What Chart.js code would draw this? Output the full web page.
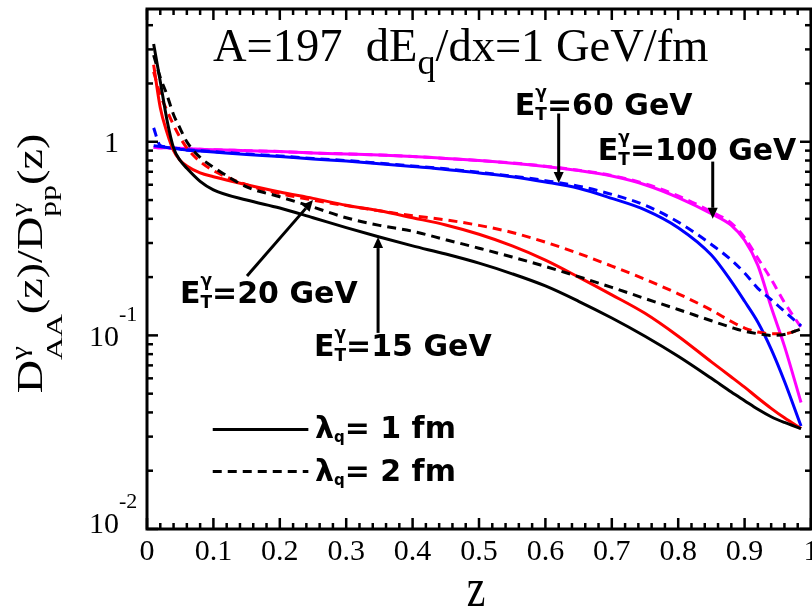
<!DOCTYPE html>
<html>
<head>
<meta charset="utf-8">
<script src="https://cdn.jsdelivr.net/npm/chart.js@4/dist/chart.umd.min.js"></script>
<style>
  html, body { margin: 0; padding: 0; background: #fff; }
  canvas { display: block; }
</style>
</head>
<body>
<canvas id="c" width="812" height="613"></canvas>
<script>
// Photon fragmentation ratio D_AA(z)/D_pp(z), A=197, dE/dx = 1 GeV/fm
const zValues = [0.01, 0.02, 0.03, 0.04, 0.05, 0.06, 0.08, 0.1, 0.15, 0.2, 0.25, 0.3, 0.35, 0.4,
                 0.45, 0.5, 0.55, 0.6, 0.65, 0.7, 0.75, 0.8, 0.85, 0.88, 0.9, 0.92, 0.94, 0.96, 0.985];

// E_T = 15 GeV
const et15Lambda1 = [3.2, 2.05, 1.3, 0.93, 0.8, 0.73, 0.625, 0.565, 0.5, 0.455, 0.405, 0.36, 0.322, 0.29,
                     0.263, 0.236, 0.208, 0.18, 0.15, 0.123, 0.099, 0.078, 0.06, 0.051, 0.046, 0.0415, 0.038, 0.0355, 0.033];
const et15Lambda2 = [2.8, 2.15, 1.75, 1.38, 1.17, 1.0, 0.83, 0.74, 0.585, 0.52, 0.46, 0.405, 0.37, 0.345,
                     0.312, 0.282, 0.254, 0.227, 0.201, 0.177, 0.155, 0.136, 0.119, 0.11, 0.105, 0.102, 0.1, 0.101, 0.108];
// E_T = 20 GeV
const et20Lambda1 = [2.5, 1.5, 1.12, 0.9, 0.8, 0.75, 0.69, 0.66, 0.6, 0.55, 0.51, 0.47, 0.44, 0.405,
                     0.372, 0.333, 0.29, 0.245, 0.2, 0.162, 0.13, 0.099, 0.073, 0.061, 0.054, 0.0475, 0.042, 0.0375, 0.033];
const et20Lambda2 = [2.3, 1.75, 1.45, 1.22, 1.05, 0.93, 0.79, 0.71, 0.6, 0.54, 0.5, 0.468, 0.44, 0.415,
                     0.395, 0.37, 0.34, 0.303, 0.265, 0.228, 0.195, 0.164, 0.135, 0.118, 0.109, 0.104, 0.102, 0.102, 0.108];
// E_T = 60 GeV
const et60Lambda1 = [0.955, 0.945, 0.935, 0.925, 0.915, 0.905, 0.895, 0.885, 0.86, 0.84, 0.815, 0.795, 0.77, 0.745,
                     0.72, 0.69, 0.66, 0.62, 0.575, 0.51, 0.445, 0.36, 0.26, 0.19, 0.15, 0.117, 0.085, 0.058, 0.034];
const et60Lambda2 = [1.18, 0.955, 0.94, 0.93, 0.92, 0.91, 0.9, 0.89, 0.865, 0.845, 0.82, 0.8, 0.775, 0.75,
                     0.725, 0.695, 0.665, 0.63, 0.59, 0.535, 0.47, 0.385, 0.295, 0.245, 0.21, 0.175, 0.153, 0.133, 0.112];
// E_T = 100 GeV
const et100Lambda1 = [0.935, 0.93, 0.93, 0.925, 0.925, 0.92, 0.915, 0.91, 0.9, 0.89, 0.875, 0.865, 0.855, 0.84,
                      0.82, 0.8, 0.775, 0.745, 0.71, 0.665, 0.6, 0.515, 0.425, 0.37, 0.31, 0.23, 0.14, 0.088, 0.045];
const et100Lambda2 = [0.935, 0.93, 0.93, 0.925, 0.925, 0.92, 0.915, 0.91, 0.9, 0.89, 0.875, 0.865, 0.855, 0.84,
                      0.82, 0.8, 0.777, 0.748, 0.713, 0.67, 0.607, 0.525, 0.435, 0.38, 0.32, 0.25, 0.195, 0.148, 0.11];

const xTickValues = [0, 0.1, 0.2, 0.3, 0.4, 0.5, 0.6, 0.7, 0.8, 0.9, 1];
const xTickLabels = ['0', '0.1', '0.2', '0.3', '0.4', '0.5', '0.6', '0.7', '0.8', '0.9', '1'];
const yTickValues = [0.01, 0.1, 1];
const yTickBases = ['10', '10', '1'];
const yTickExponents = ['-2', '-1', ''];

const Y_MIN = 0.01, Y_MAX = 4.85;

const SERIF = '"Liberation Serif", "Times New Roman", serif';
const SANS_B = '"DejaVu Sans", sans-serif';

function series(values, color, dashed) {
  return {
    data: zValues.map((z, i) => ({ x: z, y: values[i] })),
    borderColor: color,
    borderWidth: 3,
    borderDash: dashed ? [9, 6] : [],
    pointRadius: 0,
    fill: false,
    cubicInterpolationMode: 'monotone'
  };
}

// Energy labels with arrows, placed in data coordinates
const energyNotes = [
  { energy: '60',  text: [0.554, 1.374], from: [0.62, 1.40],   to: [0.62, 0.612] },
  { energy: '100', text: [0.679, 0.804], from: [0.852, 0.79],  to: [0.852, 0.40] },
  { energy: '20',  text: [0.0497, 0.147], from: [0.1506, 0.2025], to: [0.25, 0.50] },
  { energy: '15',  text: [0.2515, 0.0782], from: [0.348, 0.103], to: [0.348, 0.322] }
];
const legendRows = [
  { label: '1', dashed: false, line: [0.099, 0.243, 0.0327], text: [0.253, 0.0295] },
  { label: '2', dashed: true,  line: [0.099, 0.243, 0.0198], text: [0.253, 0.0176] }
];

function drawRich(ctx, x, y, parts, dry) {
  let cx = x;
  for (const p of parts) {
    if (p.stack) {
      let w = 0;
      for (const s of p.stack) {
        ctx.font = s.font;
        if (!dry) ctx.fillText(s.t, cx, y + (s.dy || 0));
        w = Math.max(w, ctx.measureText(s.t).width);
      }
      cx += w;
    } else {
      ctx.font = p.font;
      if (!dry) ctx.fillText(p.t, cx, y + (p.dy || 0));
      cx += ctx.measureText(p.t).width;
    }
  }
  return cx - x;
}

function arrow(ctx, x1, y1, x2, y2) {
  const ang = Math.atan2(y2 - y1, x2 - x1);
  const L = 11, W = 5;
  const bx = x2 - L * Math.cos(ang), by = y2 - L * Math.sin(ang);
  ctx.beginPath();
  ctx.moveTo(x1, y1);
  ctx.lineTo(bx, by);
  ctx.stroke();
  ctx.beginPath();
  ctx.moveTo(x2, y2);
  ctx.lineTo(bx + W * Math.sin(ang), by - W * Math.cos(ang));
  ctx.lineTo(bx - W * Math.sin(ang), by + W * Math.cos(ang));
  ctx.closePath();
  ctx.fill();
}

const decor = {
  id: 'decor',
  afterDatasetsDraw(chart) {
    const { ctx, chartArea: a, scales } = chart;
    const xs = scales.x, ys = scales.y;
    const seg = (x1, y1, x2, y2) => { ctx.beginPath(); ctx.moveTo(x1, y1); ctx.lineTo(x2, y2); ctx.stroke(); };
    ctx.save();
    ctx.strokeStyle = '#000';
    ctx.fillStyle = '#000';
    ctx.setLineDash([]);

    // frame
    ctx.lineWidth = 3;
    ctx.strokeRect(a.left, a.top, a.right - a.left, a.bottom - a.top);

    // x ticks, inward on bottom and top
    ctx.lineWidth = 2.5;
    for (let i = 0; i <= 50; i++) {
      const px = xs.getPixelForValue(i / 50);
      const len = i % 5 === 0 ? 11 : 6;
      seg(px, a.bottom, px, a.bottom - len);
      seg(px, a.top, px, a.top + len);
    }
    // y ticks, inward on left and right
    for (const d of yTickValues) {
      for (let k = 1; k <= 9; k++) {
        const v = d * k;
        if (v > Y_MAX) break;
        const py = ys.getPixelForValue(v);
        const len = k === 1 ? 11 : 6;
        seg(a.left, py, a.left + len, py);
        seg(a.right, py, a.right - len, py);
      }
    }

    // x tick labels
    ctx.textAlign = 'center';
    ctx.textBaseline = 'alphabetic';
    ctx.font = '30px ' + SERIF;
    xTickValues.forEach((v, i) => ctx.fillText(xTickLabels[i], xs.getPixelForValue(v), a.bottom + 31));

    // y tick labels with exponents
    yTickValues.forEach((v, i) => {
      const py = ys.getPixelForValue(v);
      const base = Math.min(py + 10.5, a.bottom + 4);
      const rx = a.left - 28;
      ctx.textAlign = 'right';
      ctx.font = '30px ' + SERIF;
      ctx.fillText(yTickBases[i], rx, base);
      if (yTickExponents[i]) {
        ctx.textAlign = 'left';
        ctx.font = '22px ' + SERIF;
        ctx.fillText(yTickExponents[i], rx, base - 25);
      }
    });

    // x axis title
    ctx.textAlign = 'center';
    ctx.save();
    ctx.translate((a.left + a.right) / 2 - 3, a.bottom + 77);
    ctx.scale(1, 1.3);
    ctx.font = '42px ' + SERIF;
    ctx.fillText('z', 0, 0);
    ctx.restore();

    // y axis title
    ctx.textAlign = 'left';
    const main = '35px ' + SERIF, small = '24px ' + SERIF;
    const yTitle = [
      { t: 'D', font: main },
      { stack: [{ t: 'γ', font: small, dy: -15 }, { t: 'AA', font: small, dy: 20 }] },
      { t: '(z)/D', font: main },
      { stack: [{ t: 'γ', font: small, dy: -15 }, { t: 'pp', font: small, dy: 14 }] },
      { t: '(z)', font: main }
    ];
    ctx.save();
    ctx.translate(a.left - 105, 263.5);
    ctx.rotate(-Math.PI / 2);
    ctx.scale(1.32, 1);
    const tw = drawRich(ctx, 0, 0, yTitle, true);
    drawRich(ctx, -tw / 2, 0, yTitle);
    ctx.restore();

    // panel title
    drawRich(ctx, a.left + 66, a.top + 52, [
      { t: 'A=197  dE', font: '46.5px ' + SERIF },
      { t: 'q', font: '36px ' + SERIF, dy: 13 },
      { t: '/dx=1 GeV/fm', font: '46.5px ' + SERIF }
    ]);

    // energy labels and arrows
    const big = 'bold 30px ' + SANS_B, tiny = 'bold 17px ' + SANS_B;
    ctx.lineWidth = 3;
    for (const n of energyNotes) {
      drawRich(ctx, xs.getPixelForValue(n.text[0]), ys.getPixelForValue(n.text[1]), [
        { t: 'E', font: big },
        { stack: [{ t: 'γ', font: tiny, dy: -17 }, { t: 'T', font: tiny, dy: 5 }] },
        { t: '=' + n.energy + ' GeV', font: big }
      ]);
      arrow(ctx, xs.getPixelForValue(n.from[0]), ys.getPixelForValue(n.from[1]),
                 xs.getPixelForValue(n.to[0]), ys.getPixelForValue(n.to[1]));
    }

    // legend
    for (const r of legendRows) {
      ctx.setLineDash(r.dashed ? [9, 6] : []);
      const py = ys.getPixelForValue(r.line[2]);
      seg(xs.getPixelForValue(r.line[0]), py, xs.getPixelForValue(r.line[1]), py);
      ctx.setLineDash([]);
      drawRich(ctx, xs.getPixelForValue(r.text[0]), ys.getPixelForValue(r.text[1]), [
        { t: 'λ', font: big },
        { t: 'q', font: 'bold 15px ' + SANS_B, dy: 4 },
        { t: '= ' + r.label + ' fm', font: big }
      ]);
    }
    ctx.restore();
  }
};

new Chart(document.getElementById('c'), {
  type: 'line',
  data: {
    datasets: [
      series(et15Lambda1, '#000000', false),
      series(et15Lambda2, '#000000', true),
      series(et20Lambda1, '#ff0000', false),
      series(et20Lambda2, '#ff0000', true),
      series(et60Lambda1, '#0000ff', false),
      series(et60Lambda2, '#0000ff', true),
      series(et100Lambda1, '#ff00ff', false),
      series(et100Lambda2, '#ff00ff', true)
    ]
  },
  options: {
    responsive: false,
    animation: false,
    devicePixelRatio: 1,
    layout: { padding: { left: 147, right: 1, top: 9, bottom: 84 } },
    plugins: { legend: { display: false }, tooltip: { enabled: false } },
    scales: {
      x: { type: 'linear', min: 0, max: 1, display: false },
      y: { type: 'logarithmic', min: Y_MIN, max: Y_MAX, display: false }
    }
  },
  plugins: [decor]
});
</script>
</body>
</html>
